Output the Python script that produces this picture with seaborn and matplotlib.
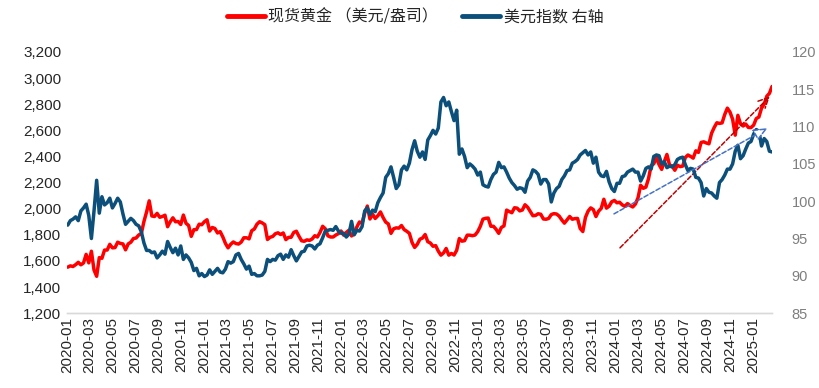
import matplotlib
matplotlib.use("Agg")
import matplotlib.pyplot as plt
import matplotlib.dates as mdates
import seaborn as sns
import pandas as pd

# ---------------- data (weekly, Fridays) ----------------
week_start = "2020-01-03"
week_end = "2025-02-21"

gold_2020 = [1552, 1562, 1557, 1571, 1589, 1570, 1584, 1650, 1585, 1674,
             1530, 1482, 1625, 1620, 1683, 1683, 1727, 1700, 1702, 1743,
             1734, 1730, 1685, 1730, 1743, 1771, 1775, 1798, 1810, 1902,
             1975, 2060, 1944, 1940, 1964, 1934, 1940, 1950, 1862, 1900,
             1930, 1900, 1902, 1879, 1951, 1888, 1871, 1788, 1839, 1840,
             1881, 1877]
gold_2021 = [1900, 1915, 1829, 1856, 1848, 1814, 1824, 1784, 1734, 1700,
             1727, 1745, 1733, 1729, 1744, 1777, 1777, 1769, 1831, 1844,
             1881, 1900, 1891, 1877, 1764, 1781, 1787, 1808, 1815, 1802,
             1814, 1763, 1780, 1781, 1818, 1827, 1788, 1754, 1750, 1761,
             1757, 1768, 1793, 1783, 1818, 1865, 1846, 1792, 1783, 1783,
             1798, 1809, 1829]
gold_2022 = [1797, 1818, 1835, 1791, 1808, 1859, 1898, 1889, 1966, 2020,
             1921, 1958, 1925, 1946, 1975, 1932, 1897, 1883, 1811, 1846,
             1853, 1851, 1871, 1840, 1827, 1811, 1742, 1703, 1727, 1766,
             1775, 1802, 1747, 1737, 1712, 1717, 1675, 1644, 1661, 1695,
             1644, 1657, 1645, 1681, 1771, 1751, 1755, 1797, 1797, 1793,
             1798, 1824]
gold_2023 = [1865, 1920, 1926, 1928, 1865, 1865, 1842, 1811, 1856, 1868,
             1989, 1978, 1969, 2007, 2004, 1983, 1990, 2030, 2011, 1978,
             1946, 1948, 1961, 1957, 1921, 1919, 1925, 1955, 1962, 1959,
             1943, 1914, 1889, 1915, 1940, 1919, 1924, 1925, 1848, 1825,
             1933, 1981, 2006, 1993, 1940, 1981, 2002, 2072, 2004, 2019,
             2053, 2063]
gold_2024 = [2045, 2049, 2029, 2018, 2039, 2024, 2013, 2035, 2083, 2179,
             2156, 2165, 2230, 2330, 2344, 2391, 2338, 2301, 2360, 2415,
             2334, 2327, 2294, 2333, 2322, 2326, 2392, 2411, 2400, 2387,
             2443, 2431, 2507, 2512, 2503, 2497, 2578, 2622, 2658, 2653,
             2657, 2721, 2770, 2740, 2685, 2563, 2715, 2650, 2633, 2648,
             2622, 2621]
gold_2025 = [2640, 2690, 2702, 2770, 2800, 2861, 2883, 2936]

usd_2020 = [96.8, 97.4, 97.6, 97.9, 97.4, 98.7, 99.1, 99.6, 98.1, 95.0,
            98.7, 102.8, 98.4, 100.6, 99.5, 99.8, 100.4, 99.1, 99.7, 100.4,
            99.9, 98.3, 96.9, 97.3, 97.7, 97.4, 96.9, 96.7, 95.9, 94.4,
            93.4, 93.4, 93.1, 93.2, 92.4, 92.8, 93.3, 92.9, 94.6, 93.8,
            93.1, 93.7, 92.8, 94.0, 92.2, 92.8, 92.4, 91.8, 90.7, 91.0,
            90.0, 90.3]
usd_2021 = [89.9, 90.1, 90.8, 90.2, 90.6, 91.0, 90.5, 90.4, 90.9, 91.9,
            91.7, 91.9, 92.8, 93.0, 92.2, 91.6, 90.9, 91.3, 90.2, 90.3,
            90.0, 90.0, 90.1, 90.6, 92.2, 91.9, 92.2, 92.1, 92.7, 92.9,
            92.2, 92.8, 92.5, 93.5, 92.7, 92.0, 92.6, 93.2, 93.3, 94.0,
            94.1, 94.0, 93.6, 94.1, 94.3, 95.1, 96.0, 96.1, 96.2, 96.1,
            96.6, 96.0, 95.7]
usd_2022 = [95.7, 95.2, 95.6, 97.3, 95.5, 96.1, 96.0, 96.6, 98.7, 99.1,
            98.2, 98.8, 98.6, 99.8, 100.5, 101.1, 103.2, 103.7, 104.6, 103.2,
            101.7, 102.2, 104.2, 104.7, 104.2, 105.1, 106.9, 108.1, 106.7, 105.9,
            106.6, 105.6, 108.2, 108.8, 109.5, 109.0, 109.8, 113.3, 113.9, 112.8,
            113.3, 112.0, 110.8, 112.2, 106.3, 107.0, 106.0, 104.5, 105.0, 104.7,
            104.3, 103.5]
usd_2023 = [103.9, 102.2, 102.0, 101.9, 102.9, 103.6, 103.9, 105.2, 104.5, 104.6,
            103.9, 103.1, 102.5, 102.1, 101.6, 101.8, 101.7, 101.2, 102.7, 103.2,
            104.2, 104.0, 103.6, 102.3, 102.9, 102.9, 102.3, 99.9, 101.1, 101.7,
            102.0, 102.9, 103.4, 104.1, 104.2, 105.1, 105.3, 105.6, 106.2, 106.5,
            106.8, 106.2, 106.6, 105.1, 105.9, 103.9, 103.4, 103.3, 104.0, 102.6,
            101.7, 101.3]
usd_2024 = [102.4, 102.4, 103.3, 103.4, 103.9, 104.1, 104.3, 103.9, 103.9, 102.7,
            103.4, 104.4, 104.6, 104.3, 106.0, 106.2, 106.1, 105.0, 105.3, 104.5,
            104.7, 104.6, 104.9, 105.6, 105.8, 105.9, 104.9, 104.1, 104.4, 104.3,
            103.2, 103.1, 102.5, 100.7, 101.7, 101.2, 101.1, 100.7, 100.4, 102.5,
            102.9, 103.5, 104.3, 104.3, 105.0, 106.7, 107.5, 105.7, 106.1, 107.0,
            107.8, 108.0]
usd_2025 = [109.0, 109.6, 109.4, 107.4, 108.4, 108.0, 106.7, 106.6]

# trend arrows (date, value)
gold_trend = [("2024-01-13", 1700), ("2025-02-15", 2860)]
usd_trend = [("2023-12-28", 98.3), ("2025-02-09", 109.8)]

gold_label = "现货黄金 （美元/盎司）"
usd_label = "美元指数 右轴"

weeks = pd.date_range(week_start, week_end, freq="W-FRI")
gold_price = gold_2020 + gold_2021 + gold_2022 + gold_2023 + gold_2024 + gold_2025
usd_index = usd_2020 + usd_2021 + usd_2022 + usd_2023 + usd_2024 + usd_2025
n = min(len(weeks), len(gold_price), len(usd_index))
gold_df = pd.DataFrame({"date": weeks[:n], "value": gold_price[:n]})
usd_df = pd.DataFrame({"date": weeks[:n], "value": usd_index[:n]})

# ---------------- style ----------------
sns.set_theme(style="white")
plt.rcParams["font.family"] = ["Liberation Sans", "Noto Sans CJK SC", "DejaVu Sans"]

RED = "#FF0000"
BLUE = "#0B4F7A"

fig, ax = plt.subplots(figsize=(8.2, 3.88), dpi=100)
fig.subplots_adjust(left=0.0817, right=0.9415, bottom=0.193, top=0.866)
ax2 = ax.twinx()

sns.lineplot(data=gold_df, x="date", y="value", ax=ax, color=RED, linewidth=2.5, label=gold_label, legend=False)
sns.lineplot(data=usd_df, x="date", y="value", ax=ax2, color=BLUE, linewidth=2.5, label=usd_label, legend=False)

ax.set_ylim(1200, 3200)
ax.set_yticks(range(1200, 3201, 200))
ax.set_yticklabels([f"{v:,}" for v in range(1200, 3201, 200)])
ax2.set_ylim(85, 120)
ax2.set_yticks(range(85, 121, 5))
ax.set_xlim(pd.Timestamp("2020-01-01"), pd.Timestamp("2025-02-21"))

ax.xaxis.set_major_locator(mdates.MonthLocator(bymonth=[1, 3, 5, 7, 9, 11]))
ax.xaxis.set_major_formatter(mdates.DateFormatter("%Y-%m"))
for lab in ax.get_xticklabels():
    lab.set_rotation(90)

ax.set_xlabel("")
ax.set_ylabel("")
ax2.set_ylabel("")

for a in (ax, ax2):
    for s in ("top", "left", "right"):
        a.spines[s].set_visible(False)
    a.spines["bottom"].set_color("#D9D9D9")
    a.spines["bottom"].set_linewidth(1.0)
    a.grid(False)

ax.tick_params(axis="y", which="both", length=0, labelsize=11, labelcolor="#262626", pad=4)
ax.tick_params(axis="x", length=4, width=1, color="#D9D9D9", direction="in", labelsize=11,
               labelcolor="#262626", pad=3)
ax2.tick_params(axis="y", length=0, labelsize=10.5, labelcolor="#7F7F7F", pad=14)

# trend arrows
ax.annotate("", xy=(pd.Timestamp(gold_trend[1][0]), gold_trend[1][1]),
            xytext=(pd.Timestamp(gold_trend[0][0]), gold_trend[0][1]),
            arrowprops=dict(arrowstyle="->,head_length=0.6,head_width=0.3", color="#C00000",
                            lw=1.1, linestyle=(0, (3, 1.5)), shrinkA=0, shrinkB=0))
ax2.annotate("", xy=(pd.Timestamp(usd_trend[1][0]), usd_trend[1][1]),
             xytext=(pd.Timestamp(usd_trend[0][0]), usd_trend[0][1]),
             arrowprops=dict(arrowstyle="-|>,head_length=0.7,head_width=0.3", ec="#4472C4", fc="white",
                             lw=1.1, linestyle=(0, (3, 1.5)), shrinkA=0, shrinkB=0))

# legend
h1, l1 = ax.get_legend_handles_labels()
h2, l2 = ax2.get_legend_handles_labels()
leg = fig.legend(h1 + h2, l1 + l2, loc="center", bbox_to_anchor=(0.506, 0.955), ncol=2, frameon=False,
                 prop={"family": ["Noto Sans CJK SC", "DejaVu Sans"], "size": 11.5},
                 handlelength=2.4, handletextpad=0.2, columnspacing=1.5)
for line in leg.get_lines():
    line.set_linewidth(3.5)

fig.savefig("out.png", dpi=100)
